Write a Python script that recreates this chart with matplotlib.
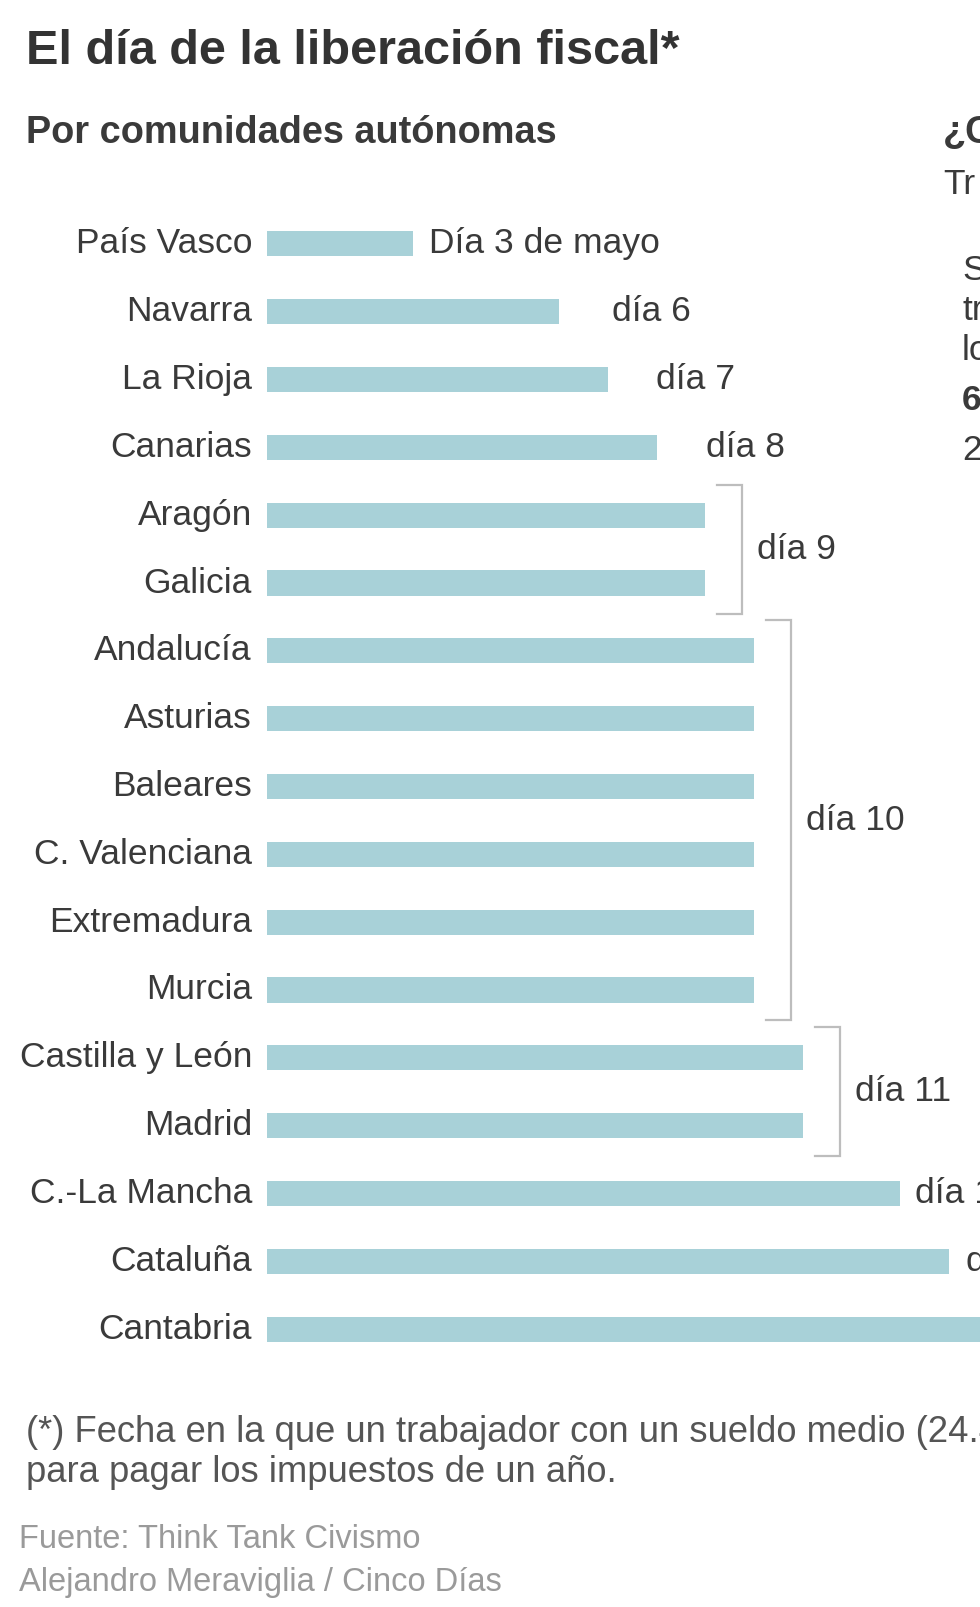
import matplotlib
matplotlib.use("Agg")
import matplotlib.pyplot as plt

plt.rcParams['font.family'] = ['Liberation Sans', 'DejaVu Sans']

# ---- data ----
regions = ["País Vasco", "Navarra", "La Rioja", "Canarias", "Aragón", "Galicia",
           "Andalucía", "Asturias", "Baleares", "C. Valenciana", "Extremadura",
           "Murcia", "Castilla y León", "Madrid", "C.-La Mancha", "Cataluña",
           "Cantabria"]
days = [3, 6, 7, 8, 9, 9, 10, 10, 10, 10, 10, 10, 11, 11, 13, 14, 15]

# single labels: (row index, text)
single_labels = [(0, "Día 3 de mayo"), (1, "día 6"), (2, "día 7"), (3, "día 8"),
                 (14, "día 13"), (15, "día 14")]
# grouped labels: (first row, last row, text)
group_labels = [(4, 5, "día 9"), (6, 11, "día 10"), (12, 13, "día 11")]

title = "El día de la liberación fiscal*"
subtitle = "Por comunidades autónomas"
footnote = ["(*) Fecha en la que un trabajador con un sueldo medio (24.400 euros)",
            "para pagar los impuestos de un año."]
source = ["Fuente: Think Tank Civismo", "Alejandro Meraviglia / Cinco Días"]
side_texts = [("¿C", True), ("Tr", False), ("S", False), ("tr", False),
              ("lo", False), ("6", True), ("2", False)]

# ---- style ----
W, H = 980, 1607
BAR = "#a8d1d8"
TXT = "#3a3a3a"
LINE = "#bdbdbd"
FS = 25.5
px_per_day = 48.7

fig = plt.figure(figsize=(W / 100, H / 100), dpi=100)
fig.patch.set_facecolor("white")

ax_left = 267
ax_top = 210
ax_bot = 1363
ax = fig.add_axes([ax_left / W, 1 - ax_bot / H, (W - ax_left) / W, (ax_bot - ax_top) / H])
ax.set_xlim(0, (W - ax_left) / px_per_day)
ax.set_ylim(len(regions) - 0.5, -0.5)
ax.axis("off")

ypos = list(range(len(regions)))
ax.barh(ypos, days, height=0.37, color=BAR, edgecolor="none")

# category labels
for i, r in enumerate(regions):
    ax.annotate(r, xy=(0, i), xytext=(-15, 0), textcoords="offset pixels",
                ha="right", va="center", fontsize=FS, color=TXT,
                annotation_clip=False)

single_offset = {0: 16, 1: 53, 2: 48, 3: 49, 14: 15, 15: 17}
for i, t in single_labels:
    ax.annotate(t, xy=(days[i], i), xytext=(single_offset[i], 0),
                textcoords="offset pixels", ha="left", va="center",
                fontsize=FS, color=TXT, annotation_clip=False)

# brackets
for a, b, t in group_labels:
    v = days[a]
    x0 = v + 12 / px_per_day
    x1 = v + 37 / px_per_day
    y0 = a - 0.45
    y1 = b + 0.45
    ax.plot([x0, x1, x1, x0], [y0, y0, y1, y1], color=LINE, lw=1.6,
            solid_joinstyle="miter", clip_on=False)
    ax.annotate(t, xy=(x1, (a + b) / 2), xytext=(15, 0),
                textcoords="offset pixels", ha="left", va="center",
                fontsize=FS, color=TXT, annotation_clip=False)

# titles
fig.text(26 / W, 1 - 64 / H, title, fontsize=35, fontweight="bold",
         color="#333333", ha="left", va="baseline")
fig.text(26 / W, 1 - 143 / H, subtitle, fontsize=27.3, fontweight="bold",
         color="#3a3a3a", ha="left", va="baseline")

# right panel remnants
side_pos = [(943, 133), (943, 185), (962, 270), (962, 311), (962, 351),
            (962, 400), (962, 450)]
for (t, bold), (x, y) in zip(side_texts, side_pos):
    fig.text(x / W, 1 - y / H, t, fontsize=27.3 if t == "¿C" else FS,
             fontweight="bold" if bold else "normal", color=TXT,
             ha="left", va="center")

# footnote
fig.text(26 / W, 1 - 1432 / H, footnote[0], fontsize=26.2, color="#555555",
         ha="left", va="center")
fig.text(26 / W, 1 - 1473 / H, footnote[1], fontsize=26.2, color="#555555",
         ha="left", va="center")
fig.text(19 / W, 1 - 1539 / H, source[0], fontsize=23.5, color="#9a9a9a",
         ha="left", va="center")
fig.text(19 / W, 1 - 1583 / H, source[1], fontsize=23.5, color="#9a9a9a",
         ha="left", va="center")

fig.savefig("out.png", dpi=100, facecolor="white")
